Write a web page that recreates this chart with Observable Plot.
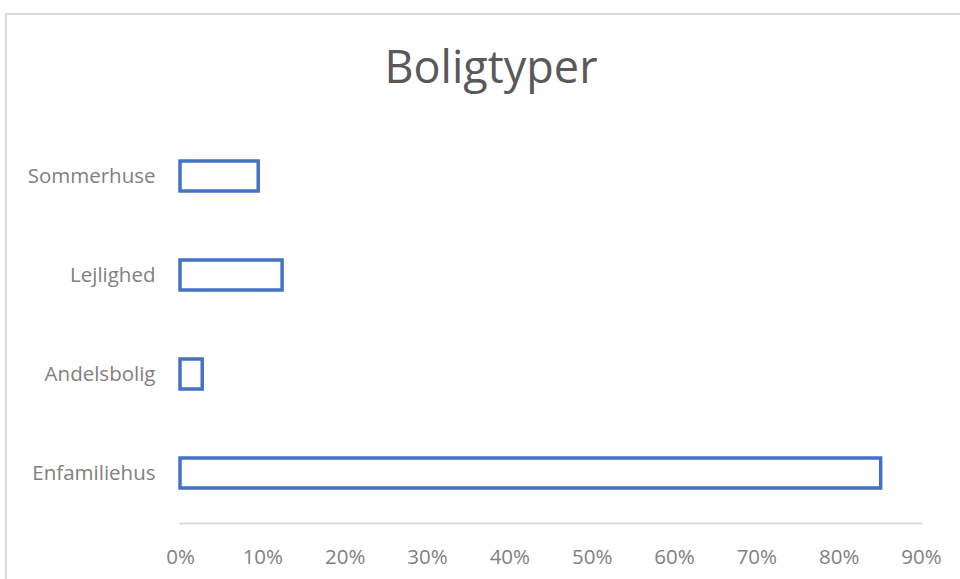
<!DOCTYPE html>
<html><head><meta charset="utf-8">
<script src="https://cdn.jsdelivr.net/npm/d3@7"></script>
<script src="https://cdn.jsdelivr.net/npm/@observablehq/plot@0.6"></script>
<style>
html,body{margin:0;padding:0;background:#fff;overflow:hidden;width:960px;height:579px;}
#frame{position:absolute;left:5px;top:13px;width:1000px;height:700px;border-top:2px solid #d9d9d9;border-left:2px solid #d9d9d9;}
#title{position:absolute;left:6px;width:970px;top:43px;text-align:center;font-family:"Open Sans";font-size:45px;color:#595959;line-height:1;}
#chart{position:absolute;left:0;top:0;}
</style></head><body>
<div id="frame"></div>
<div id="title">Boligtyper</div>
<div id="chart"></div>
<script>
const categories = ["Sommerhuse", "Lejlighed", "Andelsbolig", "Enfamiliehus"];
const shares = [0.095, 0.124, 0.027, 0.851];
const xTicks = [0, 0.1, 0.2, 0.3, 0.4, 0.5, 0.6, 0.7, 0.8, 0.9];
const xTickLabels = ["0%", "10%", "20%", "30%", "40%", "50%", "60%", "70%", "80%", "90%"];

const data = categories.map((c, i) => ({type: c, share: shares[i]}));

const chart = Plot.plot({
  width: 960,
  height: 579,
  marginTop: 125,
  marginBottom: 56,
  marginLeft: 180,
  marginRight: 39,
  style: {fontFamily: '"Open Sans"', fontSize: "20.5px", color: "#808080", background: "transparent"},
  x: {domain: [0, 0.9], ticks: xTicks, tickFormat: d => xTickLabels[xTicks.findIndex(t => Math.abs(t - d) < 1e-9)], tickSize: 0, tickPadding: 26, label: null},
  y: {domain: categories, paddingInner: 0.7, paddingOuter: 0.35, tickSize: 0, tickPadding: 25, label: null},
  marks: [
    Plot.frame({anchor: "bottom", stroke: "#d9d9d9", strokeWidth: 2}),
    Plot.barX(data, {x: "share", y: "type", fill: "white", stroke: "#4472C4", strokeWidth: 3.5})
  ]
});
document.getElementById("chart").append(chart);
</script>
</body></html>
